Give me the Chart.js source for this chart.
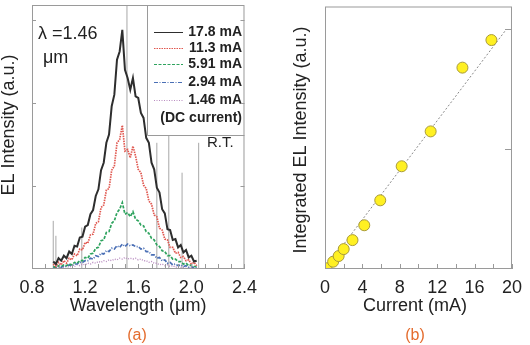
<!DOCTYPE html>
<html>
<head>
<meta charset="utf-8">
<script src="https://cdn.jsdelivr.net/npm/chart.js@4.4.0/dist/chart.umd.min.js"></script>
<style>
  html, body { margin: 0; padding: 0; background: #fff; }
  #wrap { position: relative; width: 530px; height: 345px; }
  canvas { position: absolute; top: 0; }
  #spectra { left: 0; }
  #integrated { left: 265px; }
</style>
</head>
<body>
<div id="wrap">
  <canvas id="spectra" width="265" height="345"></canvas>
  <canvas id="integrated" width="265" height="345"></canvas>
</div>
<script>
// (a) EL spectra, wavelength in um
const wavelength = [0.96, 0.98, 1.00, 1.02, 1.04, 1.06, 1.08, 1.10, 1.12, 1.14, 1.16, 1.18, 1.20, 1.22, 1.24, 1.26, 1.28, 1.30, 1.32, 1.34, 1.36, 1.38, 1.40, 1.42, 1.44, 1.46, 1.48, 1.50, 1.52, 1.54, 1.56, 1.58, 1.60, 1.62, 1.64, 1.66, 1.68, 1.70, 1.72, 1.74, 1.76, 1.78, 1.80, 1.82, 1.84, 1.86, 1.88, 1.90, 1.92, 1.94, 1.96, 1.98, 2.00, 2.02, 2.04];
const el178 = [0.09, 0.06, 0.13, 0.10, 0.16, 0.13, 0.21, 0.18, 0.28, 0.27, 0.38, 0.39, 0.51, 0.53, 0.66, 0.71, 0.88, 0.96, 1.19, 1.28, 1.52, 1.62, 1.96, 2.10, 2.52, 2.62, 2.88, 2.40, 2.30, 2.16, 2.30, 2.08, 2.06, 1.88, 1.82, 1.58, 1.52, 1.28, 1.20, 0.98, 0.92, 0.72, 0.67, 0.48, 0.47, 0.35, 0.36, 0.26, 0.29, 0.20, 0.23, 0.14, 0.16, 0.09, 0.10];
const el113 = [0.06, 0.03, 0.08, 0.05, 0.10, 0.07, 0.13, 0.11, 0.18, 0.16, 0.24, 0.23, 0.32, 0.31, 0.41, 0.42, 0.55, 0.57, 0.74, 0.77, 0.95, 0.97, 1.19, 1.24, 1.52, 1.56, 1.73, 1.42, 1.44, 1.34, 1.48, 1.36, 1.20, 1.16, 1.01, 0.97, 0.82, 0.78, 0.65, 0.63, 0.49, 0.47, 0.36, 0.35, 0.26, 0.26, 0.19, 0.20, 0.14, 0.15, 0.10, 0.11, 0.06, 0.08, 0.04];
const el591 = [0.03, 0.02, 0.04, 0.03, 0.05, 0.04, 0.06, 0.05, 0.08, 0.07, 0.10, 0.10, 0.14, 0.13, 0.18, 0.19, 0.25, 0.26, 0.34, 0.35, 0.44, 0.45, 0.55, 0.58, 0.68, 0.72, 0.80, 0.66, 0.68, 0.63, 0.69, 0.60, 0.58, 0.53, 0.52, 0.45, 0.43, 0.37, 0.35, 0.29, 0.27, 0.22, 0.21, 0.16, 0.16, 0.12, 0.12, 0.09, 0.09, 0.06, 0.07, 0.04, 0.05, 0.03, 0.03];
const el294 = [0.02, 0.01, 0.03, 0.02, 0.04, 0.03, 0.05, 0.04, 0.06, 0.06, 0.08, 0.08, 0.10, 0.10, 0.13, 0.12, 0.16, 0.15, 0.19, 0.18, 0.22, 0.21, 0.25, 0.24, 0.28, 0.26, 0.30, 0.27, 0.30, 0.28, 0.29, 0.27, 0.27, 0.24, 0.25, 0.21, 0.21, 0.17, 0.17, 0.13, 0.14, 0.10, 0.11, 0.07, 0.08, 0.05, 0.06, 0.04, 0.05, 0.03, 0.04, 0.02, 0.03, 0.01, 0.02];
const el146 = [0.01, 0.02, 0.01, 0.02, 0.02, 0.03, 0.02, 0.04, 0.03, 0.05, 0.04, 0.06, 0.05, 0.07, 0.06, 0.08, 0.07, 0.09, 0.08, 0.10, 0.09, 0.11, 0.10, 0.12, 0.11, 0.13, 0.12, 0.14, 0.12, 0.13, 0.12, 0.13, 0.11, 0.12, 0.10, 0.10, 0.08, 0.09, 0.07, 0.07, 0.05, 0.06, 0.04, 0.05, 0.03, 0.04, 0.02, 0.03, 0.02, 0.02, 0.01, 0.02, 0.01, 0.01, 0.01];
// noise spikes seen in the spectra
const spikeWavelength = [0.96, 0.98, 1.175, 1.515, 1.74, 1.83, 1.93, 2.055];
const spikeTop = [0.58, 0.40, 0.50, 3.3, 1.52, 1.88, 1.16, 1.52];
const wavelengthTicks = [0.8, 1.2, 1.6, 2.0, 2.4];

// (b) integrated intensity vs current
const current = [0.17, 0.87, 1.46, 2.0, 2.94, 4.2, 5.91, 8.2, 11.3, 14.7, 17.8];
const integrated = [0.006, 0.061, 0.108, 0.166, 0.241, 0.365, 0.573, 0.857, 1.148, 1.68, 1.91];
const fitCurrent = [0, 19.3];
const fitIntensity = [0, 1.99];
const currentTicks = [0, 4, 8, 12, 16, 20];

const FONT = "'Liberation Sans', Arial, sans-serif";
Chart.defaults.font.family = FONT;
Chart.defaults.color = '#222';

const toPoints = (xs, ys) => xs.map((x, i) => ({ x: x, y: ys[i] }));

const decor = {
    id: 'decor',
    afterDatasetsDraw(chart, args, opts) {
        const { ctx, chartArea: a } = chart;
        const xs = chart.scales.x, ys = chart.scales.y;
        ctx.save();

        if (opts.legend) {
            const lg = opts.legend;
            ctx.fillStyle = '#fff';
            ctx.fillRect(lg.left, a.top, a.right - lg.left, lg.bottom - a.top);
            ctx.strokeStyle = '#9a9a9a';
            ctx.lineWidth = 1;
            ctx.beginPath();
            ctx.moveTo(lg.left + 0.5, a.top);
            ctx.lineTo(lg.left + 0.5, lg.bottom + 0.5);
            ctx.lineTo(a.right, lg.bottom + 0.5);
            ctx.stroke();
            ctx.font = 'bold 14px ' + FONT;
            ctx.textAlign = 'right';
            ctx.textBaseline = 'middle';
            lg.items.forEach((it, i) => {
                const y = lg.rows[i];
                if (it.color) {
                    ctx.strokeStyle = it.color;
                    ctx.lineWidth = 1;
                    ctx.setLineDash(it.dash);
                    ctx.beginPath();
                    ctx.moveTo(lg.sampleFrom, y + 0.5);
                    ctx.lineTo(lg.sampleTo, y + 0.5);
                    ctx.stroke();
                    ctx.setLineDash([]);
                }
                ctx.fillStyle = '#222';
                ctx.fillText(it.text, lg.textRight, y);
            });
        }

        // frame and inward ticks
        ctx.strokeStyle = '#9a9a9a';
        ctx.lineWidth = 1;
        ctx.strokeRect(a.left + 0.5, a.top + 0.5, a.width - 1, a.height - 1);
        ctx.beginPath();
        for (let i = 0; ; i++) {
            const v = xs.min + i * opts.xStep;
            if (v > xs.max + 1e-9) break;
            const px = Math.round(xs.getPixelForValue(v)) + 0.5;
            ctx.moveTo(px, a.bottom);
            ctx.lineTo(px, a.bottom - 5);
        }
        opts.yTicks.forEach(v => {
            const py = Math.round(ys.getPixelForValue(v)) + 0.5;
            if (opts.yLeft) { ctx.moveTo(a.left, py); ctx.lineTo(a.left + opts.yLen, py); }
            if (opts.yRight) { ctx.moveTo(a.right, py); ctx.lineTo(a.right - opts.yLen, py); }
        });
        ctx.stroke();

        opts.texts.forEach(t => {
            ctx.save();
            ctx.font = t.font;
            ctx.fillStyle = t.color || '#222';
            ctx.textAlign = t.align || 'center';
            ctx.textBaseline = 'middle';
            ctx.translate(t.x, t.y);
            if (t.rotate) ctx.rotate(t.rotate);
            ctx.fillText(t.text, 0, 0);
            ctx.restore();
        });
        ctx.restore();
    }
};

const spikePoints = [];
spikeWavelength.forEach((w, i) => {
    spikePoints.push({ x: w, y: 0 }, { x: w, y: spikeTop[i] }, { x: w, y: null });
});

const series = [
    { label: '17.8 mA', data: el178, color: '#2e2e2e', dash: [], width: 2 },
    { label: '11.3 mA', data: el113, color: '#e0574f', dash: [1.5, 1], width: 1.7 },
    { label: '5.91 mA', data: el591, color: '#2ea35e', dash: [3, 1.5], width: 1.7 },
    { label: '2.94 mA', data: el294, color: '#4a6fb5', dash: [4, 1.5, 1, 1.5], width: 1.7 },
    { label: '1.46 mA', data: el146, color: '#b98cc0', dash: [1, 1.5], width: 1.4 }
];

new Chart(document.getElementById('spectra'), {
    type: 'line',
    data: {
        datasets: series.map(s => ({
            label: s.label,
            data: toPoints(wavelength, s.data),
            borderColor: s.color,
            borderDash: s.dash,
            borderWidth: s.width,
            pointRadius: 0
        })).concat([{
            label: 'spikes',
            data: spikePoints,
            borderColor: '#a8a8a8',
            borderWidth: 1,
            pointRadius: 0,
            spanGaps: false
        }])
    },
    options: {
        responsive: false,
        animation: false,
        devicePixelRatio: 1,
        layout: { padding: { left: 0, right: 19, top: 5, bottom: 0 } },
        elements: { line: { tension: 0 } },
        plugins: {
            legend: { display: false },
            tooltip: { enabled: false },
            decor: {
                xStep: 0.1,
                yTicks: [1, 2, 3],
                yLeft: true,
                yRight: true,
                yLen: 4,
                legend: {
                    left: 147,
                    bottom: 135,
                    sampleFrom: 154,
                    sampleTo: 183,
                    textRight: 242,
                    rows: [32, 48, 64, 82, 100, 118],
                    items: series.map(s => ({ text: s.label, color: s.color, dash: s.dash })).concat([{ text: '(DC current)' }])
                },
                texts: [
                    { text: 'EL Intensity (a.u.)', x: 9, y: 125, rotate: -Math.PI / 2, font: '18px ' + FONT },
                    { text: 'Wavelength (μm)', x: 138, y: 306, font: '18px ' + FONT },
                    { text: '(a)', x: 137, y: 336, font: '16px ' + FONT, color: '#e46c2e' },
                    { text: 'λ =1.46', x: 38, y: 34, align: 'left', font: '18px ' + FONT },
                    { text: 'μm', x: 43, y: 58, align: 'left', font: '18px ' + FONT },
                    { text: 'R.T.', x: 207, y: 143, align: 'left', font: '15px ' + FONT }
                ]
            }
        },
        scales: {
            x: {
                type: 'linear',
                min: 0.8,
                max: 2.4,
                grid: { display: false, drawTicks: false },
                border: { display: false },
                ticks: { font: { size: 18 }, padding: 8, maxRotation: 0, callback: v => v.toFixed(1) },
                afterBuildTicks: s => { s.ticks = wavelengthTicks.map(v => ({ value: v })); },
                afterFit: s => { s.height = 76; }
            },
            y: {
                min: 0,
                max: 3.18,
                grid: { display: false, drawTicks: false },
                border: { display: false },
                ticks: { display: false },
                afterFit: s => { s.width = 32; }
            }
        }
    },
    plugins: [decor]
});

new Chart(document.getElementById('integrated'), {
    type: 'scatter',
    data: {
        datasets: [{
            label: 'Integrated EL',
            data: toPoints(current, integrated),
            backgroundColor: '#fff022',
            borderColor: '#a89a3a',
            borderWidth: 1,
            pointRadius: 5.5,
            clip: 0
        }, {
            type: 'line',
            label: 'fit',
            data: toPoints(fitCurrent, fitIntensity),
            borderColor: '#8a8a8a',
            borderDash: [2, 2],
            borderWidth: 1,
            pointRadius: 0
        }]
    },
    options: {
        responsive: false,
        animation: false,
        devicePixelRatio: 1,
        layout: { padding: { left: 0, right: 14, top: 5, bottom: 0 } },
        plugins: {
            legend: { display: false },
            tooltip: { enabled: false },
            decor: {
                xStep: 2,
                yTicks: [1, 2],
                yLeft: false,
                yRight: true,
                yLen: 7,
                texts: [
                    { text: 'Integrated EL Intensity (a.u.)', x: 36, y: 140, rotate: -Math.PI / 2, font: '18px ' + FONT },
                    { text: 'Current (mA)', x: 150, y: 306, font: '18px ' + FONT },
                    { text: '(b)', x: 150, y: 336, font: '16px ' + FONT, color: '#e46c2e' }
                ]
            }
        },
        scales: {
            x: {
                type: 'linear',
                min: 0,
                max: 20,
                grid: { display: false, drawTicks: false },
                border: { display: false },
                ticks: { font: { size: 18 }, padding: 8, maxRotation: 0 },
                afterBuildTicks: s => { s.ticks = currentTicks.map(v => ({ value: v })); },
                afterFit: s => { s.height = 76; }
            },
            y: {
                min: 0,
                max: 2.19,
                grid: { display: false, drawTicks: false },
                border: { display: false },
                ticks: { display: false },
                afterFit: s => { s.width = 60; }
            }
        }
    },
    plugins: [decor]
});
</script>
</body>
</html>
